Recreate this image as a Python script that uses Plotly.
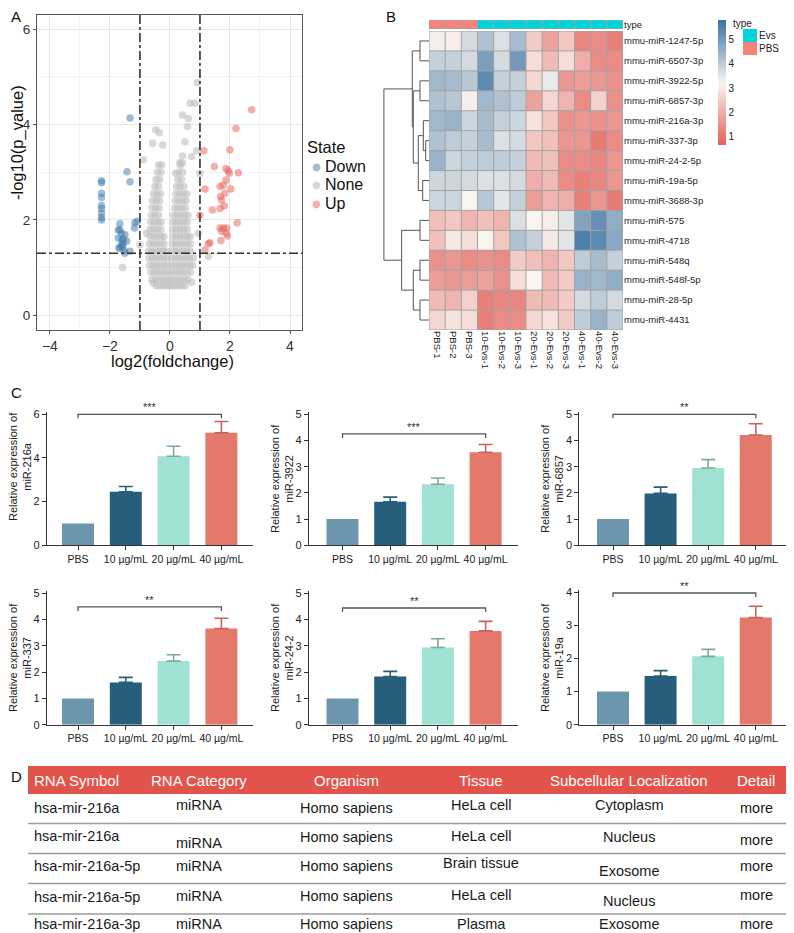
import plotly.graph_objects as go

# The page places the figure 8px in from the top-left corner, so the figure is sized to
# the remaining viewport and reference-pixel positions are shifted by that offset.
OFF = 8
W, H = 794 - OFF, 933 - OFF
FONT = "Arial, 'Liberation Sans', sans-serif"


def fx(px):
    return (px - OFF) / W


def fy(py):
    return 1 - (py - OFF) / H


def dx(a, b):
    return [fx(a), fx(b)]


def dy(top, bottom):
    return [fy(bottom), fy(top)]


# ---------------- Panel A: volcano data ----------------
down_x = [-1.33, -1.43, -1.33, -2.28, -2.28, -2.28, -2.28, -2.28, -2.28, -2.28, -2.28, -2.28,
          -1.67, -1.67, -1.72, -1.61, -1.56, -1.67, -1.53, -1.50, -1.33, -1.17, -1.09, -1.18,
          -1.72, -1.61, -1.50, -1.58, -1.44, -1.70, -1.62, -1.55]
down_y = [4.14, 3.01, 2.80, 2.82, 2.78, 2.56, 2.47, 2.30, 2.24, 2.14, 2.05, 2.00,
          1.92, 1.79, 1.62, 1.58, 1.51, 1.41, 1.36, 1.30, 1.34, 1.94, 1.97, 1.83,
          1.79, 1.72, 1.69, 1.44, 1.55, 1.41, 1.48, 1.60]

up_x = [2.72, 2.20, 2.00, 1.13, 1.48, 1.87, 1.94, 1.98, 2.28, 1.87, 1.78, 1.67, 2.03, 1.17, 1.83, 1.69,
        1.72, 1.81, 1.67, 1.41, 1.00, 2.24, 1.67, 1.78, 1.89, 1.72, 1.87, 1.92, 1.33, 1.28, 1.70, 1.17]
up_y = [4.31, 3.92, 3.47, 3.45, 3.12, 3.08, 3.03, 2.98, 2.99, 2.84, 2.73, 2.70, 2.65, 2.65, 2.56, 2.49,
        2.42, 2.29, 2.24, 2.21, 2.10, 1.94, 1.83, 1.83, 1.83, 1.76, 1.72, 1.66, 1.52, 1.50, 1.57, 1.37]

none_rows_y = [0.62, 0.75, 0.9, 1.05, 1.2, 1.35, 1.5, 1.65, 1.8, 1.95, 2.1, 2.25, 2.4, 2.55, 2.7, 2.85, 3.0, 3.15]
none_rows_x = [
    [-0.45, -0.33, -0.21, -0.09, 0.03, 0.15, 0.27, 0.39, 0.5],
    [-0.6, -0.48, -0.36, -0.24, -0.12, 0.0, 0.12, 0.24, 0.36, 0.48, 0.6],
    [-0.64, -0.52, -0.4, -0.28, -0.16, -0.04, 0.08, 0.2, 0.32, 0.44, 0.56, 0.68],
    [-0.68, -0.56, -0.44, -0.32, -0.2, -0.08, 0.06, 0.18, 0.3, 0.42, 0.54, 0.66, 0.76],
    [-0.7, -0.58, -0.46, -0.34, -0.22, -0.1, 0.06, 0.18, 0.3, 0.42, 0.54, 0.66, 0.78],
    [-0.7, -0.58, -0.46, -0.34, -0.22, -0.12, 0.08, 0.2, 0.32, 0.44, 0.56, 0.68],
    [-0.68, -0.56, -0.44, -0.32, -0.2, 0.08, 0.2, 0.32, 0.44, 0.56, 0.68],
    [-0.66, -0.54, -0.42, -0.3, -0.2, 0.1, 0.22, 0.34, 0.46, 0.58, 0.68],
    [-0.66, -0.54, -0.42, -0.3, 0.1, 0.22, 0.34, 0.46, 0.58],
    [-0.64, -0.52, -0.4, -0.3, 0.1, 0.22, 0.34, 0.46, 0.58],
    [-0.62, -0.5, -0.38, 0.12, 0.24, 0.36, 0.48, 0.6],
    [-0.6, -0.48, -0.36, 0.16, 0.28, 0.4, 0.52],
    [-0.58, -0.46, -0.34, 0.18, 0.3, 0.42, 0.54],
    [-0.55, -0.43, -0.32, 0.2, 0.32, 0.44, 0.56],
    [-0.5, -0.38, 0.22, 0.34, 0.46],
    [-0.46, -0.34, 0.26, 0.38],
    [-0.42, -0.3, 0.3, 0.42],
    [-0.38, -0.28, 0.34],
]
none_extra_x = [0.91, 0.67, 0.83, 0.42, 0.61, 0.58, -0.47, -0.36, -0.58, -0.24, 0.5, 0.89, 0.42,
                0.72, -0.89, 0.33, 0.42, 1.0, 0.19, -1.58, 1.28, -0.56, 0.72, 0.94, -1.0, -0.78]
none_extra_y = [4.88, 4.45, 4.45, 4.2, 4.13, 3.96, 3.89, 3.83, 3.61, 3.57, 3.64, 3.45, 3.34,
                3.33, 3.26, 3.2, 3.19, 2.98, 2.98, 1.0, 1.24, 0.67, 0.69, 1.72, 1.48, 1.72]

none_x, none_y = [], []
for yv, row in zip(none_rows_y, none_rows_x):
    for xv in row:
        none_x.append(xv)
        none_y.append(yv)
none_x += none_extra_x
none_y += none_extra_y

fc_cut = 1.0
p_cut = 1.3
state_levels = ["Down", "None", "Up"]

# ---------------- Panel B: heatmap data ----------------
hm_cols = ["PBS-1", "PBS-2", "PBS-3", "10-Evs-1", "10-Evs-2", "10-Evs-3",
           "20-Evs-1", "20-Evs-2", "20-Evs-3", "40-Evs-1", "40-Evs-2", "40-Evs-3"]
hm_type = ["PBS", "PBS", "PBS", "Evs", "Evs", "Evs", "Evs", "Evs", "Evs", "Evs", "Evs", "Evs"]
hm_rows = ["mmu-miR-1247-5p", "mmu-miR-6507-3p", "mmu-miR-3922-5p", "mmu-miR-6857-3p",
           "mmu-miR-216a-3p", "mmu-miR-337-3p", "mmu-miR-24-2-5p", "mmu-miR-19a-5p",
           "mmu-miR-3688-3p", "mmu-miR-575", "mmu-miR-4718", "mmu-miR-548q",
           "mmu-miR-548f-5p", "mmu-miR-28-5p", "mmu-miR-4431"]
hm_values = [
    [3.3, 3.1, 3.7, 4.2, 3.6, 4.3, 2.5, 1.8, 2.4, 1.3, 1.4, 1.2],
    [3.9, 3.9, 3.7, 4.9, 3.7, 5.0, 2.8, 2.2, 2.8, 2.0, 1.4, 1.4],
    [4.4, 4.3, 4.1, 5.3, 3.9, 3.9, 2.7, 3.4, 1.6, 1.7, 1.6, 1.5],
    [4.2, 4.1, 3.1, 4.4, 4.2, 4.0, 1.8, 2.7, 2.1, 1.4, 2.6, 1.5],
    [4.4, 4.5, 3.8, 4.3, 3.9, 3.8, 2.9, 2.4, 1.5, 1.6, 1.5, 1.6],
    [4.2, 4.0, 3.9, 4.3, 3.6, 3.7, 2.4, 2.3, 1.6, 1.6, 1.1, 1.4],
    [4.5, 3.8, 3.9, 4.0, 4.0, 3.9, 2.2, 2.3, 1.4, 1.4, 1.3, 1.6],
    [3.8, 3.8, 3.7, 3.6, 3.6, 3.7, 2.0, 2.2, 1.4, 1.2, 1.3, 1.6],
    [3.8, 3.8, 3.2, 4.1, 3.5, 3.9, 1.7, 2.1, 2.0, 1.2, 1.6, 1.1],
    [2.3, 2.4, 2.1, 2.3, 2.1, 3.6, 3.2, 3.1, 3.5, 4.8, 5.2, 4.6],
    [2.3, 3.0, 2.8, 3.2, 2.4, 4.2, 3.9, 3.0, 3.5, 5.5, 5.3, 4.7],
    [1.5, 1.6, 1.4, 1.5, 1.4, 2.5, 2.3, 2.1, 2.4, 4.0, 4.3, 3.9],
    [1.7, 1.6, 1.7, 1.8, 1.5, 2.8, 3.2, 2.2, 2.5, 4.5, 4.4, 4.6],
    [2.2, 2.1, 2.6, 1.2, 1.3, 1.3, 2.2, 2.2, 2.5, 3.7, 4.0, 3.7],
    [2.7, 2.9, 2.8, 1.2, 1.4, 1.4, 2.7, 2.9, 2.5, 4.0, 4.5, 4.0],
]
hm_zmin, hm_zmax = 0.67, 5.78
# row dendrogram merges: (left id, right id, height); leaves are 0..14
row_merges = [
    (0, 1, 2.0), (2, 3, 2.0), (5, 6, 0.73), (4, 17, 1.26), (7, 8, 1.4),
    (18, 19, 2.37), (16, 20, 3.48), (15, 21, 3.7), (9, 10, 2.0), (11, 12, 2.0),
    (13, 14, 2.0), (24, 25, 3.48), (23, 26, 6.07), (22, 27, 10.0),
]

# ---------------- Panel C: bar data ----------------
bar_genes = ["miR-216a", "miR-3922", "miR-6857", "miR-337", "miR-24-2", "miR-19a"]
bar_groups = ["PBS", "10 µg/mL", "20 µg/mL", "40 µg/mL"]
bar_means = [
    [1.0, 2.45, 4.08, 5.15],
    [1.0, 1.66, 2.33, 3.55],
    [1.0, 1.98, 2.95, 4.21],
    [1.0, 1.61, 2.42, 3.66],
    [1.0, 1.83, 2.94, 3.57],
    [1.0, 1.47, 2.06, 3.23],
]
bar_errs = [
    [0.0, 0.24, 0.46, 0.52],
    [0.0, 0.18, 0.24, 0.30],
    [0.0, 0.24, 0.32, 0.43],
    [0.0, 0.19, 0.24, 0.39],
    [0.0, 0.20, 0.33, 0.36],
    [0.0, 0.16, 0.21, 0.34],
]
bar_sig = ["***", "***", "**", "**", "**", "**"]
bar_sig_y = [6.0, 4.25, 5.0, 4.48, 4.44, 3.97]
bar_ymax = [6, 5, 5, 5, 5, 4]
bar_dtick = [2, 1, 1, 1, 1, 1]

# ---------------- Panel D: table data ----------------
tbl_header = ["RNA Symbol", "RNA Category", "Organism", "Tissue", "Subcellular Localization", "Detail"]
tbl_symbol = ["hsa-mir-216a", "hsa-mir-216a", "hsa-mir-216a-5p", "hsa-mir-216a-5p", "hsa-mir-216a-3p"]
tbl_category = ["miRNA", "miRNA", "miRNA", "miRNA", "miRNA"]
tbl_organism = ["Homo sapiens", "Homo sapiens", "Homo sapiens", "Homo sapiens", "Homo sapiens"]
tbl_tissue = ["HeLa cell", "HeLa cell", "Brain tissue", "HeLa cell", "Plasma"]
tbl_location = ["Cytoplasm", "Nucleus", "Exosome", "Nucleus", "Exosome"]
tbl_detail = ["more", "more", "more", "more", "more"]

# =====================================================================
fig = go.Figure()
annotations = []
shapes = []

# ---- Panel A
state_colors = {"Down": "rgba(63,122,170,0.5)", "None": "rgba(190,190,190,0.6)", "Up": "rgba(229,96,90,0.5)"}
for name, xs, ys in [("None", none_x, none_y), ("Down", down_x, down_y), ("Up", up_x, up_y)]:
    fig.add_trace(go.Scatter(x=xs, y=ys, mode="markers", name=name, showlegend=False,
                             marker=dict(size=7.5, color=state_colors[name], line=dict(width=0)),
                             xaxis="x", yaxis="y"))

for xv in (-fc_cut, fc_cut):
    shapes.append(dict(type="line", xref="x", yref="y domain", x0=xv, x1=xv, y0=0, y1=1,
                       line=dict(color="#333333", width=1.6, dash="dashdot")))
shapes.append(dict(type="line", xref="x domain", yref="y", x0=0, x1=1, y0=p_cut, y1=p_cut,
                   line=dict(color="#333333", width=1.6, dash="dashdot")))

# hand-built legend for the volcano (State)
annotations.append(dict(x=fx(305), y=fy(147), xref="paper", yref="paper", text="State",
                        showarrow=False, xanchor="left", yanchor="middle",
                        font=dict(size=16.5, color="#111", family=FONT)))
for k, lv in enumerate(state_levels):
    yy = 166 + 18.5 * k
    annotations.append(dict(x=fx(316), y=fy(yy), xref="paper", yref="paper", text="●",
                            showarrow=False, xanchor="center", yanchor="middle",
                            font=dict(size=10, color=state_colors[lv], family="DejaVu Sans")))
    annotations.append(dict(x=fx(323), y=fy(yy), xref="paper", yref="paper", text=lv,
                            showarrow=False, xanchor="left", yanchor="middle",
                            font=dict(size=16, color="#111", family=FONT)))

# ---- Panel B heatmap
fig.add_trace(go.Heatmap(
    z=hm_values, x=list(range(len(hm_cols))), y=list(range(len(hm_rows))),
    zmin=hm_zmin, zmax=hm_zmax,
    colorscale=[[0, "#E4615A"], [0.495, "#F8F4F0"], [1, "#3A72A2"]],
    xaxis="x2", yaxis="y2",
    colorbar=dict(x=fx(718), xanchor="left", y=fy(20), yanchor="top", len=125 / H,
                  lenmode="fraction", thickness=8, outlinewidth=0, xpad=0, ypad=0,
                  tickvals=[1, 2, 3, 4, 5], ticks="", tickfont=dict(size=10, color="#222")),
))
type_code = [0 if t == "PBS" else 1 for t in hm_type]
fig.add_trace(go.Heatmap(
    z=[type_code], x=list(range(len(hm_cols))), y=[0], zmin=0, zmax=1,
    colorscale=[[0, "#F4837A"], [0.5, "#F4837A"], [0.5, "#00D3DA"], [1, "#00D3DA"]],
    showscale=False, xaxis="x2", yaxis="y3", hoverinfo="skip"))

nc, nr = len(hm_cols), len(hm_rows)
bx, by = [], []
for i in range(nc + 1):
    bx += [i - 0.5, i - 0.5, None]
    by += [-0.5, nr - 0.5, None]
for j in range(nr + 1):
    bx += [-0.5, nc - 0.5, None]
    by += [j - 0.5, j - 0.5, None]
fig.add_trace(go.Scatter(x=bx, y=by, mode="lines", line=dict(color="#A3A3A3", width=1),
                         xaxis="x2", yaxis="y2", showlegend=False, hoverinfo="skip"))
ax_, ay_ = [], []
for i in range(nc + 1):
    ax_ += [i - 0.5, i - 0.5, None]
    ay_ += [-0.5, 0.5, None]
for j in (-0.5, 0.5):
    ax_ += [-0.5, nc - 0.5, None]
    ay_ += [j, j, None]
fig.add_trace(go.Scatter(x=ax_, y=ay_, mode="lines", line=dict(color="#A3A3A3", width=1),
                         xaxis="x2", yaxis="y3", showlegend=False, hoverinfo="skip"))

pos = {i: float(i) for i in range(nr)}
hgt = {i: 0.0 for i in range(nr)}
dxs, dys = [], []
for k, (a, b, h) in enumerate(row_merges):
    nid = nr + k
    dxs += [hgt[a], h, h, hgt[b], None]
    dys += [pos[a], pos[a], pos[b], pos[b], None]
    pos[nid] = (pos[a] + pos[b]) / 2
    hgt[nid] = h
fig.add_trace(go.Scatter(x=dxs, y=dys, mode="lines", line=dict(color="#555555", width=1),
                         xaxis="x4", yaxis="y4", showlegend=False, hoverinfo="skip"))

annotations.append(dict(x=fx(731), y=fy(23), xref="paper", yref="paper", text="type",
                        showarrow=False, xanchor="left", yanchor="middle",
                        font=dict(size=10, color="#222", family=FONT)))
type_levels = ["Evs", "PBS"]
type_cols = {"Evs": "#00D3DA", "PBS": "#F4837A"}
for k, lv in enumerate(type_levels):
    t0 = 29 + 13 * k
    shapes.append(dict(type="rect", xref="paper", yref="paper", x0=fx(743), x1=fx(757),
                       y0=fy(t0 + 13), y1=fy(t0), fillcolor=type_cols[lv], line=dict(width=0)))
    annotations.append(dict(x=fx(757), y=fy(t0 + 6.5), xref="paper", yref="paper", text=lv,
                            showarrow=False, xanchor="left", yanchor="middle",
                            font=dict(size=10, color="#222", family=FONT)))

# ---- Panel C bars
bar_colors = ["#6B96AE", "#265E7B", "#9FE1D3", "#E3786B"]
err_colors = ["#6B96AE", "#265E7B", "#7FA8A0", "#C8655A"]
col_left = [47, 309, 579.3]
col_right = [253, 518, 789]
col_c0 = [78, 342.5, 613]
col_sp = [47.8, 47.7, 47.6]
row_bottom = [545.3, 724.7]
chart_top = [414.3, 414.3, 414.3, 593.3, 593.3, 592.0]
ytitle_x = [20, 282, 552]
ytitle_y = [467, 479, 479, 658, 658, 658]

layout_axes = {}
for i in range(6):
    n = 5 + i
    c = i % 3
    r = i // 3
    top, bot = chart_top[i], row_bottom[r]
    ppu = (bot - top) / bar_ymax[i]
    pad = 2.0
    for j in range(4):
        e = bar_errs[i][j]
        fig.add_trace(go.Bar(
            x=[bar_groups[j]], y=[bar_means[i][j]], width=[32 / col_sp[c]],
            marker=dict(color=bar_colors[j], line=dict(width=0)),
            error_y=dict(type="data", symmetric=False, array=[e], arrayminus=[0],
                         color=err_colors[j], thickness=1.6, width=7, visible=e > 0),
            xaxis=f"x{n}", yaxis=f"y{n}", showlegend=False))
    d = 4 / ppu
    sy = bar_sig_y[i]
    fig.add_trace(go.Scatter(
        x=[bar_groups[0], bar_groups[0], bar_groups[3], bar_groups[3]],
        y=[sy - d, sy, sy, sy - d], mode="lines", line=dict(color="#555555", width=1.3),
        xaxis=f"x{n}", yaxis=f"y{n}", showlegend=False, hoverinfo="skip"))
    annotations.append(dict(x=1.5, y=sy, xref=f"x{n}", yref=f"y{n}", text=bar_sig[i],
                            showarrow=False, yanchor="bottom", yshift=-1,
                            font=dict(size=11, color="#333", family=FONT)))
    annotations.append(dict(x=fx(ytitle_x[c]), y=fy(ytitle_y[i]), xref="paper", yref="paper",
                            text=f"Relative expression of<br>{bar_genes[i]}", textangle=-90,
                            showarrow=False, xanchor="center", yanchor="middle",
                            font=dict(size=11, color="#222", family=FONT)))
    x0 = -(col_c0[c] - col_left[c]) / col_sp[c]
    x1 = 3 + (col_right[c] - (col_c0[c] + 3 * col_sp[c])) / col_sp[c]
    layout_axes[f"xaxis{n}"] = dict(
        domain=dx(col_left[c], col_right[c]), anchor=f"y{n}", range=[x0, x1], automargin=False,
        type="category", categoryorder="array", categoryarray=bar_groups,
        showline=True, linecolor="#333", linewidth=1.2, ticks="outside", ticklen=4,
        tickwidth=1.2, tickcolor="#333", showgrid=False, zeroline=False,
        tickfont=dict(size=10.5, color="#222", family=FONT))
    layout_axes[f"yaxis{n}"] = dict(
        domain=dy(top - pad, bot), anchor=f"x{n}", range=[0, bar_ymax[i] + pad / ppu],
        automargin=False, tickvals=list(range(0, bar_ymax[i] + 1, bar_dtick[i])),
        showline=True, linecolor="#333", linewidth=1.2, ticks="outside", ticklen=4,
        tickwidth=1.2, tickcolor="#333", showgrid=False, zeroline=False,
        tickfont=dict(size=11, color="#222", family=FONT))

# ---- Panel D table
hdr_top, hdr_bot = 766, 794
tbl_left, tbl_right = 28, 786
shapes.append(dict(type="rect", xref="paper", yref="paper", x0=fx(tbl_left), x1=fx(tbl_right),
                   y0=fy(hdr_bot), y1=fy(hdr_top), fillcolor="#E2544B", line=dict(width=0), layer="below"))
for ly in [823.5, 853.5, 883.5, 914]:
    shapes.append(dict(type="line", xref="paper", yref="paper", x0=fx(tbl_left), x1=fx(tbl_right),
                       y0=fy(ly), y1=fy(ly), line=dict(color="#9A9A9A", width=1.5)))
col_x = [32, 199, 346, 481, 629, 756]
col_anchor = ["left", "center", "center", "center", "center", "center"]
for k, t in enumerate(tbl_header):
    annotations.append(dict(x=fx(col_x[k]), y=fy(780), xref="paper", yref="paper", text=t,
                            showarrow=False, xanchor=col_anchor[k], yanchor="middle",
                            font=dict(size=15, color="white", family=FONT)))
row_base = [807, 837, 866, 896, 924]
cell_dy = [[1, -2, 1, -2, -2, 1], [-1, 6, 0, -1, 0, 3], [0, 0, 0, -3, 5, 0],
           [1, 0, 0, -1, 5, -1], [0, 0, 0, 0, 0, 0]]
columns = [tbl_symbol, tbl_category, tbl_organism, tbl_tissue, tbl_location, tbl_detail]
for r in range(5):
    for k in range(6):
        annotations.append(dict(x=fx(col_x[k]), y=fy(row_base[r] + cell_dy[r][k]), xref="paper",
                                yref="paper", text=columns[k][r], showarrow=False,
                                xanchor=col_anchor[k], yanchor="middle",
                                font=dict(size=14.5, color="#1a1a1a", family=FONT)))

# ---- panel labels & axis titles of A
for lab, px_, py_ in [("A", 9, 16), ("B", 384, 16), ("C", 9, 392), ("D", 9, 776)]:
    annotations.append(dict(x=fx(px_), y=fy(py_), xref="paper", yref="paper", text=lab,
                            showarrow=False, xanchor="left", yanchor="middle",
                            font=dict(size=15, color="#111", family=FONT)))
annotations.append(dict(x=fx(17), y=fy(143), xref="paper", yref="paper", text="-log10(p_value)",
                        textangle=-90, showarrow=False, xanchor="center", yanchor="middle",
                        font=dict(size=16.5, color="#111", family=FONT)))
annotations.append(dict(x=fx(172), y=fy(361), xref="paper", yref="paper", text="log2(foldchange)",
                        showarrow=False, xanchor="center", yanchor="middle",
                        font=dict(size=16.5, color="#111", family=FONT)))

fig.update_layout(
    width=W, height=H, margin=dict(l=0, r=0, t=0, b=0, pad=0, autoexpand=False),
    paper_bgcolor="white", plot_bgcolor="white",
    font=dict(family=FONT, color="#222"),
    barmode="overlay",
    showlegend=False,
    xaxis=dict(domain=dx(37, 302), anchor="y", range=[-4.43, 4.4], tickvals=[-4, -2, 0, 2, 4],
               automargin=False, showgrid=True, gridcolor="#E6E6E6", gridwidth=1,
               minor=dict(tickvals=[-3, -1, 1, 3], showgrid=True, gridcolor="#F3F3F3", ticks=""),
               showline=True, mirror=True, linecolor="#555", linewidth=1, zeroline=False,
               ticks="outside", ticklen=3, tickcolor="#555",
               tickfont=dict(size=14, color="#333", family=FONT)),
    yaxis=dict(domain=dy(15, 330), anchor="x", range=[-0.31, 6.3], tickvals=[0, 2, 4, 6],
               automargin=False, showgrid=True, gridcolor="#E6E6E6", gridwidth=1,
               minor=dict(tickvals=[1, 3, 5], showgrid=True, gridcolor="#F3F3F3", ticks=""),
               showline=True, mirror=True, linecolor="#555", linewidth=1, zeroline=False,
               ticks="outside", ticklen=3, tickcolor="#555",
               tickfont=dict(size=13.5, color="#333", family=FONT)),
    xaxis2=dict(domain=dx(429, 623), anchor="y2", range=[-0.5, nc - 0.5], automargin=False,
                tickvals=list(range(nc)), ticktext=hm_cols, tickangle=90, ticks="",
                showgrid=False, zeroline=False, showline=False,
                tickfont=dict(size=9.5, color="#222", family=FONT)),
    yaxis2=dict(domain=dy(31, 330), anchor="x2", range=[nr - 0.5, -0.5], side="right",
                automargin=False, tickvals=list(range(nr)), ticktext=hm_rows, ticks="",
                showgrid=False, zeroline=False, showline=False,
                tickfont=dict(size=9.5, color="#222", family=FONT)),
    yaxis3=dict(domain=dy(20, 29), anchor="x2", range=[-0.5, 0.5], side="right",
                automargin=False, tickvals=[0], ticktext=["type"], ticks="", showgrid=False,
                zeroline=False, tickfont=dict(size=9.5, color="#222", family=FONT)),
    xaxis4=dict(domain=dx(383, 429), anchor="y4", range=[10.2, 0], visible=False, automargin=False),
    yaxis4=dict(domain=dy(31, 330), anchor="x4", range=[nr - 0.5, -0.5], visible=False,
                automargin=False),
    shapes=shapes,
    annotations=annotations,
)
fig.update_layout(**layout_axes)

fig.write_html("out.html")
